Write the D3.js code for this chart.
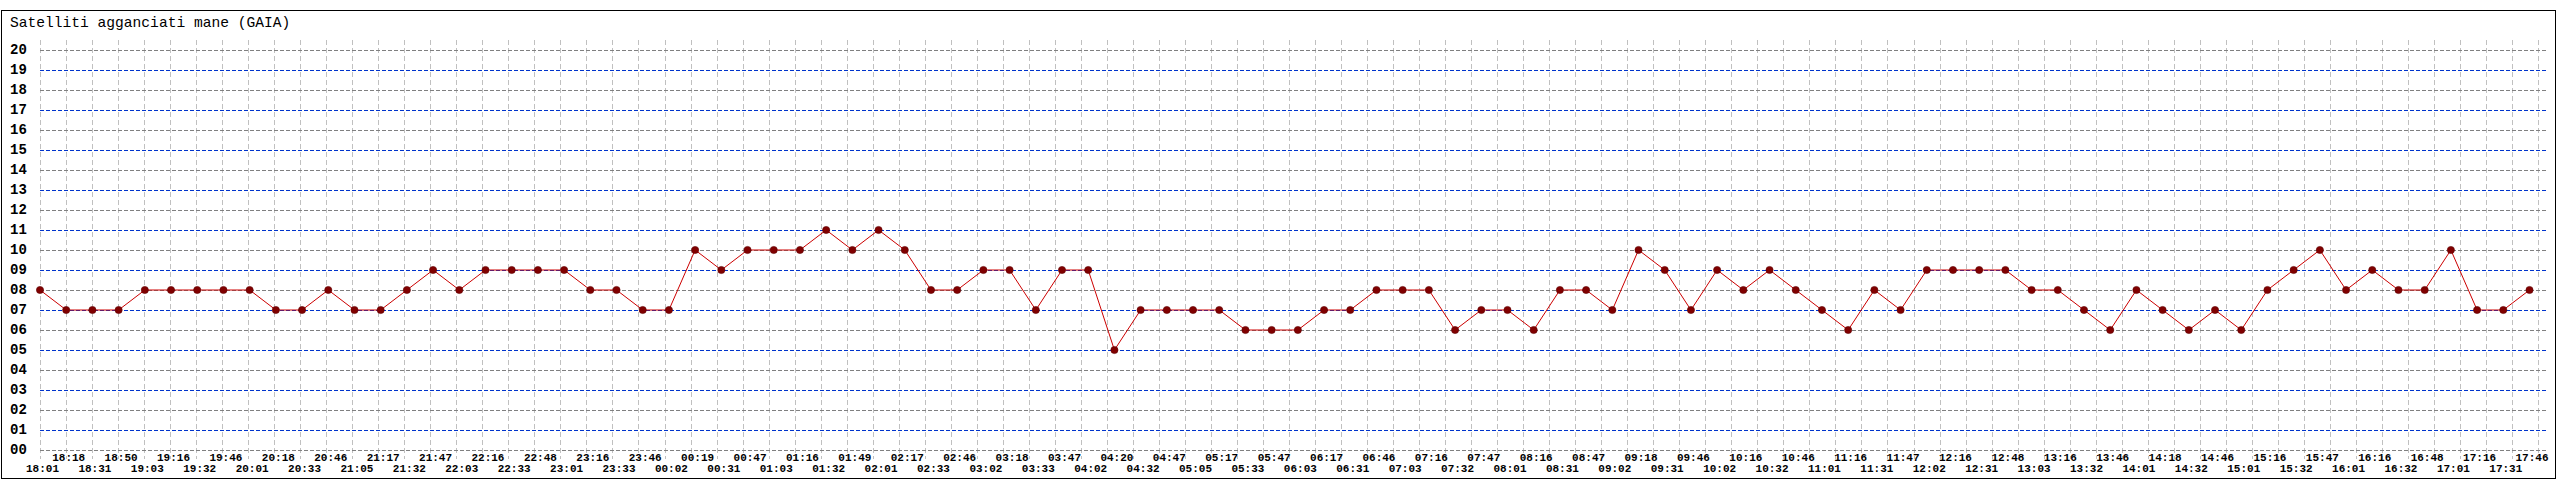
<!DOCTYPE html>
<html>
<head>
<meta charset="utf-8">
<script src="https://cdn.jsdelivr.net/npm/d3@7"></script>
<style>
  body { margin: 0; background: #fff; }
</style>
</head>
<body>
<div id="chart"></div>
<script>
const title = "Satelliti agganciati mane (GAIA)";

// one label per reading, in order
const times = ["18:01","18:18","18:31","18:50","19:03","19:16","19:32","19:46",
  "20:01","20:18","20:33","20:46","21:05","21:17","21:32","21:47",
  "22:03","22:16","22:33","22:48","23:01","23:16","23:33","23:46",
  "00:02","00:19","00:31","00:47","01:03","01:16","01:32","01:49",
  "02:01","02:17","02:33","02:46","03:02","03:18","03:33","03:47",
  "04:02","04:20","04:32","04:47","05:05","05:17","05:33","05:47",
  "06:03","06:17","06:31","06:46","07:03","07:16","07:32","07:47",
  "08:01","08:16","08:31","08:47","09:02","09:18","09:31","09:46",
  "10:02","10:16","10:32","10:46","11:01","11:16","11:31","11:47",
  "12:02","12:16","12:31","12:48","13:03","13:16","13:32","13:46",
  "14:01","14:18","14:32","14:46","15:01","15:16","15:32","15:47",
  "16:01","16:16","16:32","16:48","17:01","17:16","17:31","17:46"];

const satellites = [8,7,7,7,8,8,8,8,8,7,
  7,8,7,7,8,9,8,9,9,9,
  9,8,8,7,7,10,9,10,10,10,
  11,10,11,10,8,8,9,9,7,9,
  9,5,7,7,7,7,6,6,6,7,
  7,8,8,8,6,7,7,6,8,8,
  7,10,9,7,9,8,9,8,7,6,
  8,7,9,9,9,9,8,8,7,6,
  8,7,6,7,6,8,9,10,8,9,
  8,8,10,7,7,8];

const yTicks = d3.range(0, 21);

const w = 2560;
const h = 480;

const svg = d3.select('#chart')
  .append('svg')
  .attr('width', w)
  .attr('height', h)

svg.append('rect')
  .attr('x', 1.5).attr('y', 10.5)
  .attr('width', 2554).attr('height', 468)
  .attr('fill', '#fff')
  .attr('stroke', '#000')

svg.append('text')
  .text(title)
  .attr('x', 10).attr('y', 27)
  .attr('font-family', '"Liberation Mono", monospace')
  .attr('font-size', '14.6px')
  .attr('fill', '#000')

const x = d3.scalePoint().domain(times).range([40, 2529.5])
const y = d3.scaleLinear().domain([0, 20]).range([450, 50])
// grid columns: one more than the readings, spread over the full plot width
const gx = d3.scaleLinear().domain([0, times.length]).range([40, 2538])

// vertical grid
svg.append('g')
  .selectAll('line')
  .data(d3.range(0, times.length + 1))
  .enter()
  .append('line')
  .attr('x1', (d) => Math.round(gx(d)) + 0.5)
  .attr('x2', (d) => Math.round(gx(d)) + 0.5)
  .attr('y1', 40)
  .attr('y2', 459)
  .attr('stroke', '#c0c0c0')
  .attr('stroke-dasharray', '5,3')

// horizontal grid, odd values in blue
svg.append('g')
  .selectAll('line')
  .data(yTicks)
  .enter()
  .append('line')
  .attr('x1', 40)
  .attr('x2', 2547)
  .attr('y1', (d) => y(d) + 0.5)
  .attr('y2', (d) => y(d) + 0.5)
  .attr('stroke', (d) => d % 2 ? '#0033cc' : '#808080')
  .attr('stroke-dasharray', '4,2')

// y labels
svg.append('g')
  .selectAll('text')
  .data(yTicks)
  .enter()
  .append('text')
  .text(d3.format('02d'))
  .attr('x', 10)
  .attr('y', (d) => y(d) + 3.5)
  .attr('font-family', '"Liberation Mono", monospace')
  .attr('font-size', '14px')
  .attr('font-weight', 'bold')
  .attr('fill', '#000')

// x labels, alternating rows
svg.append('g')
  .selectAll('text')
  .data(times)
  .enter()
  .append('text')
  .text((d) => d)
  .attr('x', (d) => x(d) + 2.5)
  .attr('y', (d, i) => i % 2 ? 461 : 471.5)
  .attr('text-anchor', 'middle')
  .attr('font-family', '"Liberation Mono", monospace')
  .attr('font-size', '11px')
  .attr('font-weight', 'bold')
  .attr('fill', '#000')

const lineFun = d3.line()
  .x((d, i) => x(times[i]))
  .y((d) => y(d))

svg.append('path')
  .attr('d', lineFun(satellites))
  .attr('fill', 'none')
  .attr('stroke', '#cc0000')
  .attr('stroke-width', 1)

svg.append('g')
  .selectAll('circle')
  .data(satellites)
  .enter()
  .append('circle')
  .attr('cx', (d, i) => x(times[i]))
  .attr('cy', (d) => y(d))
  .attr('r', 3.6)
  .attr('fill', '#800000')
  .attr('stroke', '#600000')
  .attr('stroke-width', 0.6)
</script>
</body>
</html>
